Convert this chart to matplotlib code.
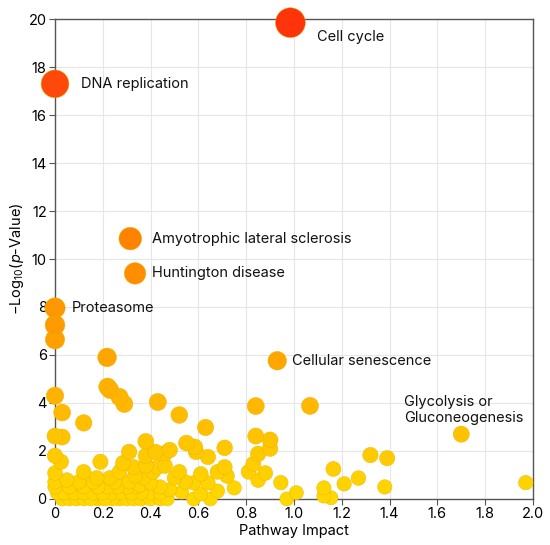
"""
Pathway impact bubble plot
"""
import numpy as np
import matplotlib.pyplot as plt
from matplotlib.colors import LinearSegmentedColormap

plt.rcParams['font.family'] = ['Inter', 'DejaVu Sans']
plt.rcParams['mathtext.fontset'] = 'custom'
plt.rcParams['mathtext.rm'] = 'Inter'
plt.rcParams['mathtext.it'] = 'Inter:italic'

# labelled pathways
label_names = ["Cell cycle", "DNA replication", "Amyotrophic lateral sclerosis",
               "Huntington disease", "Proteasome", "Cellular senescence",
               "Glycolysis or\nGluconeogenesis"]
label_impact = [0.985, 0.0, 0.315, 0.335, 0.0, 0.93, 1.70]
label_logp = [19.85, 17.3, 10.85, 9.4, 7.96, 5.76, 2.7]

# remaining pathways
impact = [0.0, 0.0, 0.218, 0.22, 0.23, 0.27, 0.29, 0.0, 0.03, 0.12, 0.43, 0.52,
          0.63, 0.84, 1.067, 0.84, 0.90, 0.90, 0.85, 0.83, 0.81, 0.88, 0.85, 0.945,
          0.97, 1.01, 1.125, 1.125, 1.155, 1.165, 1.21, 1.27, 1.32, 1.39, 1.38, 1.97,
          0.0, 0.03, 0.0, 0.025, 0.19, 0.31, 0.38, 0.38, 0.42, 0.46, 0.48, 0.55,
          0.585, 0.59, 0.64, 0.71, 0.71, 0.72, 0.75, 0.68, 0.61, 0.58, 0.64, 0.68,
          0.61, 0.65, 0.58, 0.545, 0.52, 0.50, 0.46, 0.43, 0.41, 0.38, 0.37, 0.33,
          0.335, 0.285, 0.27, 0.23, 0.25, 0.31, 0.355, 0.40, 0.44, 0.48, 0.53, 0.175,
          0.16, 0.12, 0.10, 0.05, 0.0, 0.0, 0.0, 0.01,
          0.03, 0.06, 0.09, 0.12, 0.15, 0.18, 0.21, 0.24, 0.27, 0.30, 0.33, 0.36,
          0.40, 0.44, 0.47,
          0.04, 0.08, 0.12, 0.16, 0.20, 0.24, 0.28, 0.32, 0.36, 0.40, 0.44,
          0.06, 0.12, 0.18, 0.22, 0.26, 0.30, 0.34]
logp = [7.25, 6.65, 5.9, 4.67, 4.55, 4.25, 3.96, 4.3, 3.6, 3.17, 4.04, 3.5,
        2.98, 3.87, 3.88, 2.62, 2.46, 2.1, 1.88, 1.46, 1.13, 1.08, 0.78, 0.68,
        0.0, 0.26, 0.46, 0.12, 0.05, 1.25, 0.63, 0.87, 1.83, 1.7, 0.5, 0.68,
        2.62, 2.58, 1.8, 1.55, 1.55, 1.96, 2.4, 1.8, 1.96, 1.9, 2.04, 2.33,
        2.17, 1.96, 1.75, 2.13, 1.33, 0.96, 0.46, 1.13, 1.04, 0.67, 0.67, 0.33,
        0.21, 0.0, 0.0, 0.71, 1.13, 0.88, 1.38, 1.33, 1.13, 1.38, 0.88, 1.33,
        0.96, 1.5, 1.13, 0.88, 0.71, 0.71, 0.58, 0.67, 0.5, 0.38, 0.29, 0.88,
        0.71, 1.13, 0.71, 0.79, 1.08, 0.71, 0.5, 0.25,
        0.0, 0.0, 0.0, 0.0, 0.0, 0.0, 0.0, 0.0, 0.0, 0.0, 0.0, 0.0,
        0.0, 0.0, 0.0,
        0.25, 0.25, 0.25, 0.25, 0.25, 0.25, 0.25, 0.25, 0.25, 0.25, 0.25,
        0.5, 0.5, 0.5, 0.5, 0.5, 0.5, 0.5]

label_dx = [0.11, 0.11, 0.09, 0.07, 0.07, 0.06, -0.24]
label_dy = [-0.6, 0.0, 0.0, 0.0, 0.0, 0.0, 1.0]

x = np.array(impact + label_impact)
y = np.array(logp + label_logp)
order = np.argsort(y)
x, y = x[order], y[order]

cmap = LinearSegmentedColormap.from_list(
    "bub", [(0.0, "#FFD800"), (0.1, "#FFC800"), (0.2, "#FFB600"),
            (0.3, "#FFA400"), (0.4, "#FF9600"), (0.55, "#FF8200"),
            (0.86, "#FF4A0A"), (1.0, "#FF330A")])
radius_px = 7 + 0.4 * y
sizes = (radius_px * 2 * 0.72) ** 2

fig = plt.figure(figsize=(5.5, 5.45), dpi=100)
ax = fig.add_axes([0.1, 0.0845, 0.869, 0.8805])
ax.scatter(x, y, s=sizes, c=y, cmap=cmap, vmin=0, vmax=20,
           edgecolors="#E8B400", linewidths=0.3, clip_on=False, zorder=3)

for name, xi, yi, dx, dy in zip(label_names, label_impact, label_logp,
                                label_dx, label_dy):
    ax.text(xi + dx, yi + dy, name, fontsize=10.5, va="center", ha="left",
            color="#111111", zorder=4, linespacing=1.2)

ax.set_xlim(0, 2.0)
ax.set_ylim(0, 20)
ax.set_xticks(np.arange(0, 2.01, 0.2))
ax.set_xticklabels(["0"] + [f"{v:.1f}" for v in np.arange(0.2, 2.01, 0.2)])
ax.set_yticks(range(0, 21, 2))
ax.grid(color="#E6E6E6", linewidth=0.8, zorder=0)
ax.set_axisbelow(True)
for s in ax.spines.values():
    s.set_color("#555555")
    s.set_linewidth(1.0)
ax.tick_params(labelsize=10.5, length=4, color="#555555", pad=2)
ax.set_xlabel("Pathway Impact", fontsize=10.5, labelpad=2)
ax.set_ylabel(r"$-$Log$_{10}$($\mathit{p}$-Value)", fontsize=10.5, labelpad=2)

fig.savefig("out.png", dpi=100)
